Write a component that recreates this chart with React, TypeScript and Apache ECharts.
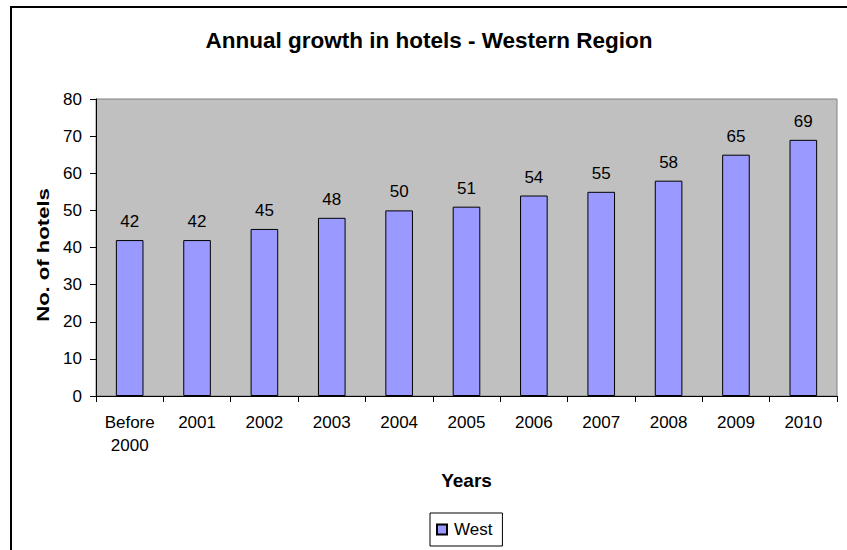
import React, { useEffect, useRef } from "react";
import * as echarts from "echarts";

const categories = ["Before\n2000", "2001", "2002", "2003", "2004", "2005", "2006", "2007", "2008", "2009", "2010"];
const westValues = [42, 42, 45, 48, 50, 51, 54, 55, 58, 65, 69];
const seriesName = "West";
const titleText = "Annual growth in hotels - Western Region";
const xAxisName = "Years";
const yAxisName = "No. of hotels";

const FONT = "'Liberation Sans', Arial, sans-serif";

export default function App() {
  const ref = useRef<HTMLDivElement>(null);
  useEffect(() => {
    document.body.style.margin = "0";
    const chart = echarts.init(ref.current!, null, { renderer: "svg" });
    chart.setOption({
      animation: false,
      backgroundColor: "#ffffff",
      textStyle: { fontFamily: FONT },
      title: {
        text: titleText,
        left: 424,
        textAlign: "center",
        top: 24,
        textStyle: { fontSize: 22.5, fontWeight: "bold", color: "#000", fontFamily: FONT },
      },
      graphic: [
        {
          type: "rect",
          shape: { x: 11, y: 7, width: 860, height: 580 },
          style: { fill: "none", stroke: "#000", lineWidth: 2 },
          silent: true,
          z: 100,
        },
        {
          type: "text",
          x: 43.5,
          y: 255,
          rotation: Math.PI / 2,
          scaleX: 1.38,
          style: {
            text: yAxisName,
            font: "bold 16px 'Liberation Sans', Arial, sans-serif",
            fill: "#000",
            align: "center",
            verticalAlign: "middle",
          },
          silent: true,
        },
      ],
      legend: {
        data: [seriesName],
        left: 430,
        top: 513,
        icon: "rect",
        itemWidth: 10,
        itemHeight: 10,
        padding: [8, 10, 8, 6],
        borderColor: "#000",
        borderWidth: 1,
        backgroundColor: "#fff",
        textStyle: { fontSize: 17, color: "#000", fontFamily: FONT, padding: [0, 0, 0, 2] },
      },
      grid: {
        left: 96,
        top: 99,
        right: 10,
        bottom: 154,
        show: true,
        backgroundColor: "#c0c0c0",
        borderColor: "#808080",
        borderWidth: 1,
        containLabel: false,
      },
      xAxis: {
        type: "category",
        data: categories,
        boundaryGap: true,
        name: xAxisName,
        nameLocation: "middle",
        nameGap: 75,
        nameTextStyle: { fontSize: 19, fontWeight: "bold", color: "#000", fontFamily: FONT },
        axisLine: { lineStyle: { color: "#000", width: 1 } },
        axisTick: { show: true, alignWithLabel: false, length: 6, lineStyle: { color: "#000" } },
        axisLabel: { fontSize: 17, color: "#000", margin: 15, lineHeight: 23, fontFamily: FONT, interval: 0 },
        splitLine: { show: false },
      },
      yAxis: {
        type: "value",
        min: 0,
        max: 80,
        interval: 10,
        axisLine: { show: true, lineStyle: { color: "#000", width: 1 } },
        axisTick: { show: true, inside: false, length: 6, lineStyle: { color: "#000" } },
        axisLabel: { fontSize: 17, color: "#000", margin: 14, fontFamily: FONT },
        splitLine: { show: false },
      },
      series: [
        {
          name: seriesName,
          type: "bar",
          data: westValues,
          barWidth: "41%",
          itemStyle: { color: "#9999ff", borderColor: "#000", borderWidth: 1 },
          label: {
            show: true,
            position: "top",
            distance: 10,
            fontSize: 17,
            color: "#000",
            fontFamily: FONT,
          },
        },
      ],
    });
    return () => chart.dispose();
  }, []);
  return <div ref={ref} style={{ position: "fixed", left: 0, top: 0, width: 847, height: 550 }} />;
}
